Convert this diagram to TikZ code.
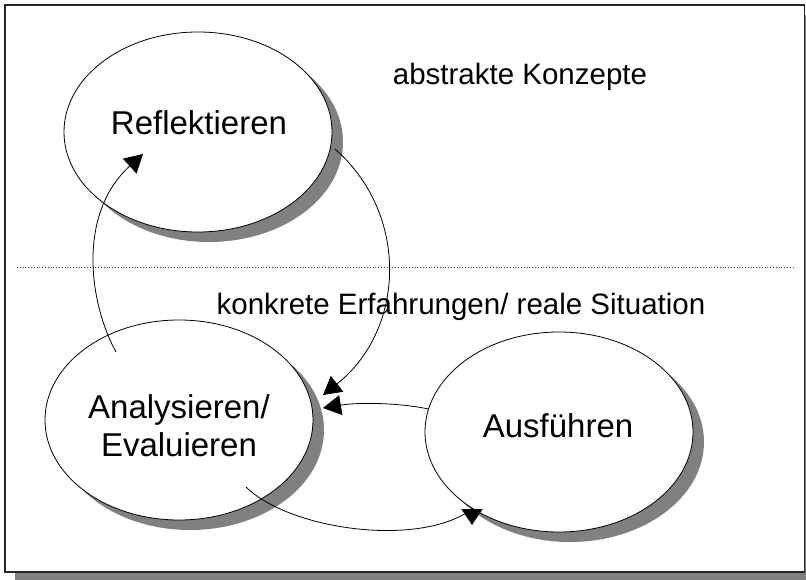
\documentclass[tikz,border=0pt]{standalone}
\usepackage{fontspec}
\setmainfont{Liberation Sans}
\usetikzlibrary{arrows.meta,shapes.geometric,shadows}

\begin{document}
\begin{tikzpicture}[x=1pt,y=-1pt,
  blob/.style={ellipse, draw=black, line width=0.8pt, fill=white,
    minimum width=268pt, minimum height=200pt, inner sep=0pt,
    drop shadow={shadow xshift=11pt, shadow yshift=-10pt, fill=black!50, opacity=1}},
  nodetext/.style={font=\fontsize{33}{38}\selectfont, inner sep=0pt, anchor=base, align=center},
  regiontext/.style={font=\fontsize{29.5}{34}\selectfont, inner sep=0pt, anchor=base},
  flow/.style={line width=0.8pt, -{Triangle[length=18pt,width=20pt]}}
]
\useasboundingbox (0,0) rectangle (806,580);
\fill[white] (0,0) rectangle (806,580);

% page frame with its shadow
\fill[black!50] (15,15) rectangle (820,590);
\draw[fill=white, draw=black!85, line width=1.6pt] (5,5) rectangle (804.6,572);

% border between the two levels
\draw[black!75, line width=0.8pt, dash pattern=on 0.8pt off 2pt] (17,267) -- (794,267);

% the three stages
\node[blob] (refl) at (198,132) {};
\node[blob] (ana)  at (179,420) {};
\node[blob] (aus)  at (559,432) {};

\node[nodetext] (refltxt) at (199,135) {Reflektieren};
% the base anchor of a two-line node sits on its last line
\node[nodetext] (anatxt)  at (179,456) {Analysieren/\\Evaluieren};
\node[nodetext] (austxt)  at (558,437) {Ausführen};

% level captions
\node[regiontext] (abstr) at (520,85) {abstrakte Konzepte};
\node[regiontext] (konkr) at (461,314.5) {konkrete Erfahrungen/ reale Situation};

% ends of the cycle arrows
\coordinate (a1s) at (116,352);
\coordinate (a1e) at (143,154);
\coordinate (a2s) at (335,149);
\coordinate (a2e) at (323,395);
\coordinate (a3e) at (323,408);
\coordinate (a4s) at (246,487);
\coordinate (a4m) at (472,509);
\coordinate (a4e) at (472,525);

% cycle
\draw[flow] (a1s) .. controls (90,305) and (76,215) .. (a1e);
\draw[flow] (a2s) .. controls (410,215) and (405,330) .. (a2e);
\draw[flow] (aus.170) .. controls (400,403) and (360,402) .. (a3e);
\draw[line width=0.8pt, -{Triangle[length=16pt,width=21pt]}]
  (a4s) .. controls (290,530) and (420,548) .. (a4m) -- (a4e);
\end{tikzpicture}
\end{document}
